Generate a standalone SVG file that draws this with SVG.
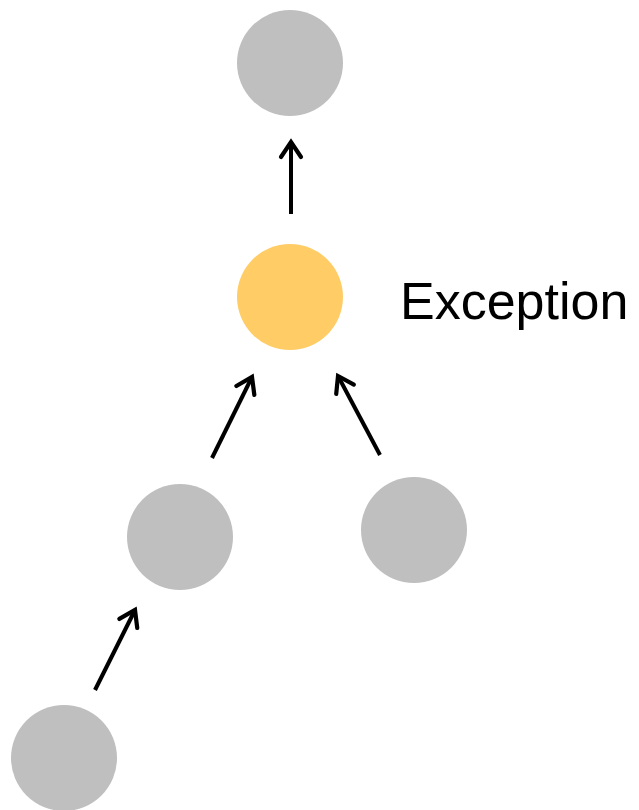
<svg xmlns="http://www.w3.org/2000/svg" width="639" height="810" viewBox="0 0 639 810">
<style>
.n{fill:#bfbfbf}
.x{fill:#ffcc66}
.c line{stroke:#000;stroke-width:4;marker-end:url(#ah)}
.t{font-family:"Liberation Sans",Arial,sans-serif;font-size:52px;fill:#000}
</style>
<defs>
<marker id="ah" markerUnits="userSpaceOnUse" viewBox="-20 -12 24 24" markerWidth="24" markerHeight="24" refX="0" refY="0" orient="auto" overflow="visible">
<path d="M-15,-10 L0,0 L-15,10" fill="none" stroke="#000" stroke-width="4.2" stroke-linecap="round" stroke-linejoin="miter"/>
</marker>
</defs>
<g id="top"><circle class="n" cx="290" cy="63" r="53"/></g>
<g id="exception"><circle class="x" cx="290" cy="297" r="53"/><text class="t" x="400" y="319">Exception</text></g>
<g id="midleft"><circle class="n" cx="180" cy="537" r="53"/></g>
<g id="midright"><circle class="n" cx="414" cy="530" r="53"/></g>
<g id="bottom"><circle class="n" cx="64" cy="758" r="53"/></g>
<g class="c" id="connectors">
<line x1="291" y1="214" x2="291" y2="142"/>
<line x1="212" y1="458" x2="252" y2="377"/>
<line x1="380" y1="455" x2="338" y2="376"/>
<line x1="95" y1="690" x2="135" y2="610"/>
</g>
</svg>
